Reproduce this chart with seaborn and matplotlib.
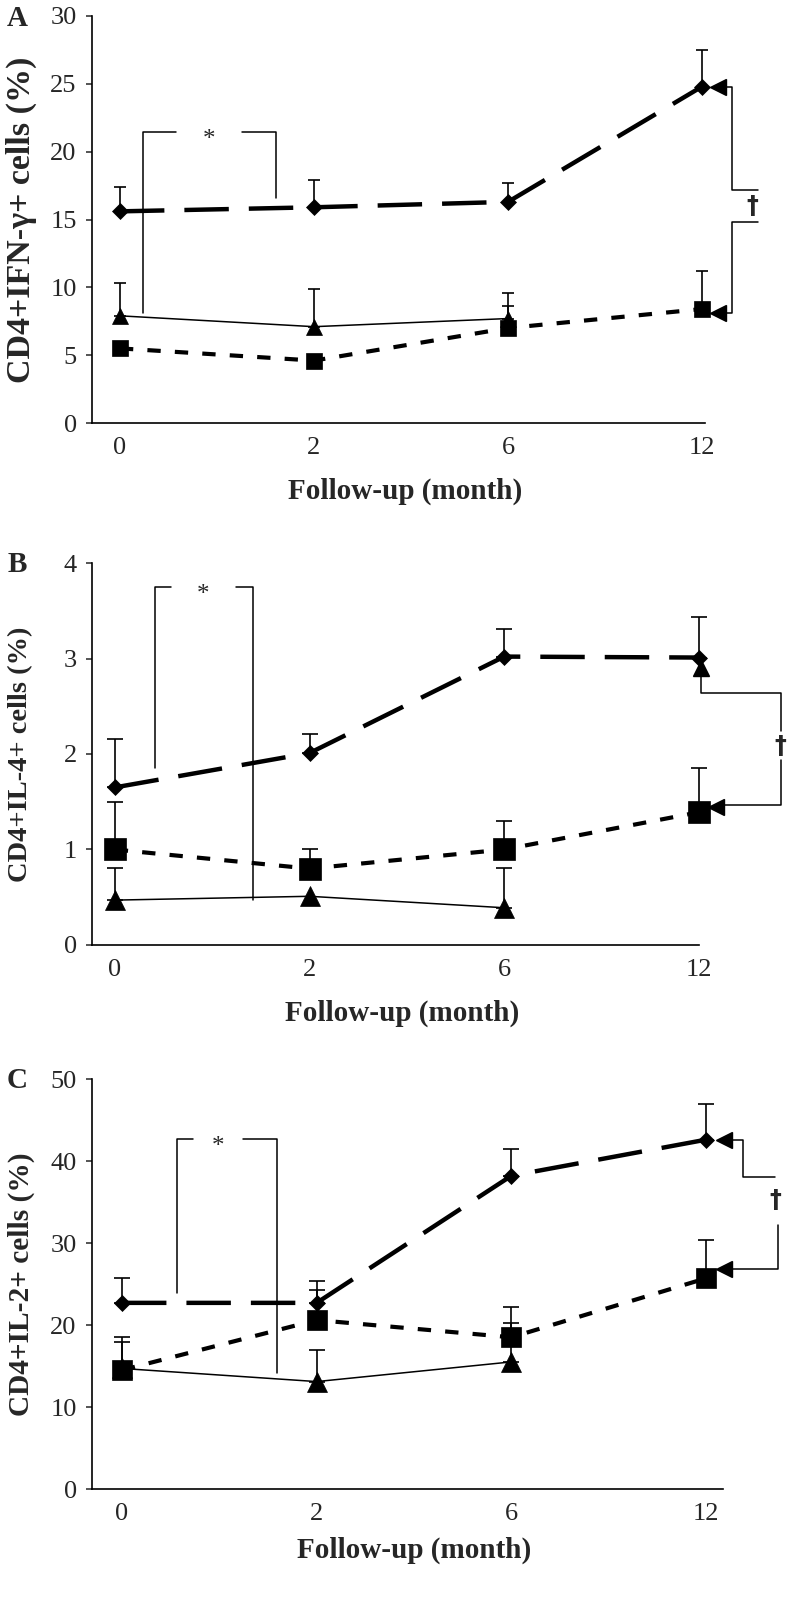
import matplotlib
matplotlib.use("Agg")
import matplotlib.pyplot as plt
import numpy as np
import pandas as pd
import seaborn as sns

W, H = 796, 1605

# follow-up months (categorical positions 0..3)
months = ["0", "2", "6", "12"]
pos = np.arange(len(months))

# A : CD4+IFN-gamma+ cells (%)
ifn_dia = [15.6, 15.9, 16.3, 24.8]
ifn_dia_sd = [1.8, 2.0, 1.4, 2.7]
ifn_sq = [5.5, 4.6, 7.0, 8.4]
ifn_sq_sd = [np.nan, np.nan, 1.6, 2.8]
ifn_tri = [7.9, 7.1, 7.7]
ifn_tri_sd = [2.4, 2.75, 1.9]

# B : CD4+IL-4+ cells (%)
il4_dia = [1.65, 2.01, 3.02, 3.01]
il4_dia_sd = [0.51, 0.20, 0.29, 0.42]
il4_sq = [1.0, 0.80, 1.0, 1.39]
il4_sq_sd = [0.50, 0.20, 0.30, 0.46]
il4_tri = [0.47, 0.51, 0.39]
il4_tri_sd = [0.34, np.nan, 0.42]

# C : CD4+IL-2+ cells (%)
il2_dia = [22.7, 22.7, 38.2, 42.6]
il2_dia_sd = [3.0, 2.7, 3.3, 4.4]
il2_sq = [14.5, 20.6, 18.5, 25.7]
il2_sq_sd = [4.0, 3.7, 3.7, 4.7]
il2_tri = [14.7, 13.1, 15.5]
il2_tri_sd = [3.2, 3.9, 4.7]

# significance brackets (data coords): star bracket and dagger bracket
star_A = dict(xl=0.119, xr=0.804, top=21.45, yl=8.1, yr=16.6, gap=(0.289, 0.629))
star_B = dict(xl=0.204, xr=0.708, top=3.75, yl=1.85, yr=0.47, gap=(0.29, 0.62))
star_C = dict(xl=0.282, xr=0.796, top=42.7, yl=23.9, yr=14.1, gap=(0.365, 0.621))

dag_A = dict(up=([3.09, 3.155, 3.155, 3.29], [24.8, 24.8, 17.2, 17.2]),
             lo=([3.29, 3.155, 3.155, 3.09], [14.8, 14.8, 8.1, 8.1]),
             txt=(3.26, 16.0), arrows=[(3.08, 24.8), (3.08, 8.1)], tri=None)
dag_B = dict(up=([3.01, 3.01, 3.42, 3.42], [2.81, 2.64, 2.64, 2.24]),
             lo=([3.42, 3.42, 3.10], [1.94, 1.47, 1.47]),
             txt=(3.42, 2.08), arrows=[(3.085, 1.45)], tri=(3.01, 2.9))
dag_C = dict(up=([3.13, 3.19, 3.19, 3.354], [42.6, 42.6, 38.0, 38.0]),
             lo=([3.37, 3.37, 3.10], [32.2, 26.8, 26.8]),
             txt=(3.354, 35.3), arrows=[(3.09, 42.6), (3.09, 26.8)], tri=None)

panels = [
    dict(letter="A", ylabel="CD4+IFN-γ+ cells (%)", ylim=(0, 30), yticks=np.arange(0, 31, 5),
         rect=(92, 16, 705, 423), xlim=(-0.144, 3.015), ylab_fs=24.5,
         dia=(ifn_dia, ifn_dia_sd), sq=(ifn_sq, ifn_sq_sd), tri=(ifn_tri, ifn_tri_sd),
         ms=(8.5, 11, 11), cap=4.5, star=star_A, dag=dag_A, xl_y=478),
    dict(letter="B", ylabel="CD4+IL-4+ cells (%)", ylim=(0, 4), yticks=np.arange(0, 5, 1),
         rect=(92, 563, 699, 945), xlim=(-0.117, 2.975), ylab_fs=20.5,
         dia=(il4_dia, il4_dia_sd), sq=(il4_sq, il4_sq_sd), tri=(il4_tri, il4_tri_sd),
         ms=(8.5, 16, 14), cap=6, star=star_B, dag=dag_B, xl_y=1000),
    dict(letter="C", ylabel="CD4+IL-2+ cells (%)", ylim=(0, 50), yticks=np.arange(0, 51, 10),
         rect=(92, 1079, 723, 1489), xlim=(-0.154, 3.087), ylab_fs=21.2,
         dia=(il2_dia, il2_dia_sd), sq=(il2_sq, il2_sq_sd), tri=(il2_tri, il2_tri_sd),
         ms=(8.5, 14.5, 14), cap=5.5, star=star_C, dag=dag_C, xl_y=1537),
]

sns.set_theme(style="ticks")
plt.rcParams["font.family"] = ["Liberation Serif", "DejaVu Serif"]

fig = plt.figure(figsize=(W / 100, H / 100), dpi=100)


def draw_series(ax, vals, sd, marker, ms, lw, ls, z, cap):
    x = pos[:len(vals)]
    df = pd.DataFrame({"x": x, "y": vals})
    sns.lineplot(data=df, x="x", y="y", ax=ax, color="black", linewidth=lw,
                 linestyle=ls, marker=marker, markersize=ms,
                 markeredgecolor="black", markerfacecolor="black",
                 markeredgewidth=0.5, zorder=z, sort=False, clip_on=False)
    sd = np.asarray(sd, dtype=float)
    ok = ~np.isnan(sd)
    ax.errorbar(x[ok], np.asarray(vals)[ok], yerr=[np.zeros(ok.sum()), sd[ok]],
                fmt="none", ecolor="black", elinewidth=1.2, capsize=cap,
                capthick=1.2, zorder=1.5, clip_on=False)


for p in panels:
    l, t, r, b = p["rect"]
    ax = fig.add_axes([l / W, 1 - b / H, (r - l) / W, (b - t) / H])

    draw_series(ax, *p["tri"], "^", p["ms"][2], 1.1, "-", 2, p["cap"])
    draw_series(ax, *p["sq"], "s", p["ms"][1], 3.0, (0, (3.2, 3.4)), 3, p["cap"])
    draw_series(ax, *p["dia"], "D", p["ms"][0], 3.2, (0, (10, 4.5)), 4, p["cap"])

    ax.set_xlim(*p["xlim"])
    ax.set_ylim(*p["ylim"])
    ax.set_yticks(p["yticks"])
    ax.set_xticks(pos)
    ax.set_xticklabels(months)
    ax.tick_params(axis="x", length=0, pad=10, labelsize=19)
    ax.tick_params(axis="y", length=4, width=1.1, pad=7, labelsize=19, direction="out")
    for s in ["top", "right"]:
        ax.spines[s].set_visible(False)
    for s in ["left", "bottom"]:
        ax.spines[s].set_color("black")
        ax.spines[s].set_linewidth(1.2)

    ax.set_ylabel(p["ylabel"], fontsize=p["ylab_fs"], fontweight="bold")
    ax.yaxis.label.set_va("center")
    ax.yaxis.set_label_coords(21 / W, 1 - (t + b) / 2 / H, transform=fig.transFigure)
    ax.set_xlabel("Follow-up (month)", fontsize=21, fontweight="bold")
    ax.xaxis.set_label_coords((l + r) / 2 / W + 0.008, 1 - p["xl_y"] / H, transform=fig.transFigure)

    fig.text(17 / W, 1 - (t + 2) / H, p["letter"], fontsize=21, fontweight="bold",
             ha="center", va="center")

    # star bracket
    s = p["star"]
    kw = dict(color="black", lw=1.1, clip_on=False, zorder=1)
    ax.plot([s["xl"], s["xl"], s["gap"][0]], [s["yl"], s["top"], s["top"]], **kw)
    ax.plot([s["gap"][1], s["xr"], s["xr"]], [s["top"], s["top"], s["yr"]], **kw)
    ax.annotate("*", (sum(s["gap"]) / 2, s["top"]), xytext=(0, -10),
                textcoords="offset points", ha="center", va="baseline", fontsize=18)

    # dagger bracket
    d = p["dag"]
    ax.plot(*d["up"], **kw)
    ax.plot(*d["lo"], **kw)
    for ax_x, ax_y in d["arrows"]:
        ax.plot([ax_x], [ax_y], marker="<", ms=12, color="black", clip_on=False, zorder=5)
    if d["tri"] is not None:
        ax.plot([d["tri"][0]], [d["tri"][1]], marker="^", ms=12, color="black",
                clip_on=False, zorder=5)
    ax.text(*d["txt"], "†", fontsize=17, fontweight="bold", family="DejaVu Sans",
            ha="center", va="center")

fig.savefig("out.png", dpi=100)
